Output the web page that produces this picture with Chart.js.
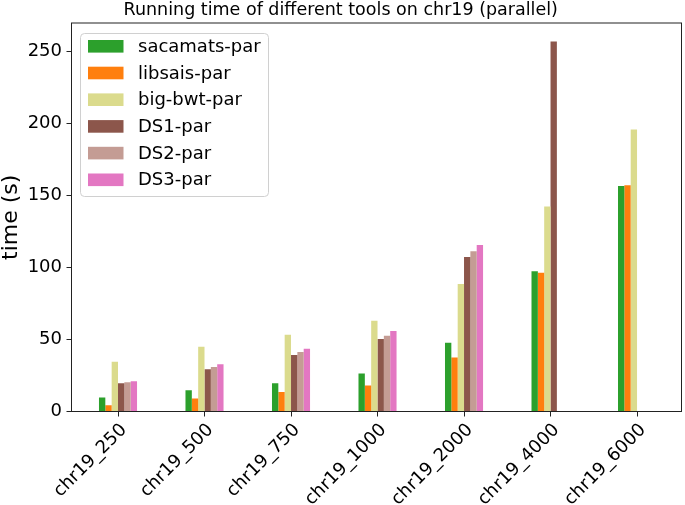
<!DOCTYPE html>
<html>
<head>
<meta charset="utf-8">
<script src="https://cdn.jsdelivr.net/npm/chart.js@4"></script>
<style>
  html, body { margin: 0; padding: 0; background: #fff; }
  canvas { display: block; }
</style>
</head>
<body>
<canvas id="myChart" width="685" height="505"></canvas>
<script>
// data
const categories = ['chr19_250', 'chr19_500', 'chr19_750', 'chr19_1000', 'chr19_2000', 'chr19_4000', 'chr19_6000'];
const sacamatsPar = [9.7, 14.8, 19.7, 26.4, 47.7, 97.4, 156.8];
const libsaisPar  = [4.4, 9.0, 13.6, 18.1, 37.6, 96.5, 157.3];
const bigBwtPar   = [34.5, 45.0, 53.3, 63.0, 88.6, 142.4, 196.0];
const ds1Par      = [19.7, 29.4, 39.2, 50.3, 107.4, 257.2, null];
const ds2Par      = [20.4, 31.0, 41.3, 52.6, 111.3, null, null];
const ds3Par      = [21.1, 32.9, 43.6, 55.9, 115.7, null, null];
const yTicks = [0, 50, 100, 150, 200, 250];

const FONT = 'DejaVu Sans';
const INK = '#000';

function pts(arr) {
  return arr.map((v, i) => ({ x: i, y: v }));
}

const series = [
  { label: 'sacamats-par', data: sacamatsPar, color: '#2ca02c' },
  { label: 'libsais-par',  data: libsaisPar,  color: '#ff7f0e' },
  { label: 'big-bwt-par',  data: bigBwtPar,   color: '#dbdb8d' },
  { label: 'DS1-par',      data: ds1Par,      color: '#8c564b' },
  { label: 'DS2-par',      data: ds2Par,      color: '#c49c94' },
  { label: 'DS3-par',      data: ds3Par,      color: '#e377c2' },
];

// box round the plot + legend in the upper left corner
const framePlugin = {
  id: 'frame',
  afterDraw(chart) {
    const { ctx, chartArea: a } = chart;
    ctx.save();
    ctx.strokeStyle = '#222';
    ctx.lineWidth = 1;
    ctx.strokeRect(a.left, a.top, a.right - a.left, a.bottom - a.top);

    // legend
    const bx = 80.5, by = 33.5, bw = 188, bh = 163, r = 4;
    ctx.beginPath();
    ctx.moveTo(bx + r, by);
    ctx.arcTo(bx + bw, by, bx + bw, by + bh, r);
    ctx.arcTo(bx + bw, by + bh, bx, by + bh, r);
    ctx.arcTo(bx, by + bh, bx, by, r);
    ctx.arcTo(bx, by, bx + bw, by, r);
    ctx.closePath();
    ctx.fillStyle = 'rgba(255,255,255,0.8)';
    ctx.fill();
    ctx.strokeStyle = '#d0d0d0';
    ctx.stroke();

    ctx.font = '18px "' + FONT + '"';
    ctx.textBaseline = 'middle';
    ctx.textAlign = 'left';
    chart.data.datasets.forEach((ds, i) => {
      const cy = 46.3 + i * 26.7;
      ctx.fillStyle = ds.backgroundColor;
      ctx.fillRect(88, cy - 6.3, 35.5, 12.6);
      ctx.fillStyle = INK;
      ctx.fillText(ds.label, 138, cy + 1);
    });
    ctx.restore();
  }
};

new Chart(document.getElementById('myChart'), {
  type: 'bar',
  data: {
    datasets: series.map(s => ({
      label: s.label,
      data: pts(s.data),
      backgroundColor: s.color,
      borderWidth: 0,
      categoryPercentage: 0.44,
      barPercentage: 1.0,
    })),
  },
  options: {
    responsive: false,
    animation: false,
    layout: { padding: { left: 0, right: 3.5, top: 0, bottom: 0 } },
    plugins: {
      legend: { display: false },
      tooltip: { enabled: false },
      title: {
        display: true,
        text: 'Running time of different tools on chr19 (parallel)',
        color: INK,
        font: { family: FONT, size: 17.5, weight: 'normal', lineHeight: 1.2 },
        padding: { top: 0, bottom: 2 },
      },
    },
    scales: {
      x: {
        type: 'linear',
        offset: false,
        min: -0.5376,
        max: 6.514,
        afterBuildTicks: s => { s.ticks = categories.map((c, i) => ({ value: i })); },
        afterFit: s => { s.height = 93.5; },
        grid: { display: true, offset: false, drawOnChartArea: false, drawTicks: true, tickLength: 5, color: '#222' },
        border: { display: false },
        ticks: {
          autoSkip: false,
          minRotation: 45,
          maxRotation: 45,
          padding: 3,
          labelOffset: 6,
          color: INK,
          font: { family: FONT, size: 18 },
          callback: v => categories[v],
        },
      },
      y: {
        min: 0,
        max: 270,
        afterBuildTicks: s => { s.ticks = yTicks.map(v => ({ value: v })); },
        afterFit: s => { s.width = 71.5; },
        grid: { display: true, drawOnChartArea: false, drawTicks: true, tickLength: 5, color: '#222' },
        border: { display: false },
        ticks: {
          padding: 4.5,
          color: INK,
          font: { family: FONT, size: 18 },
        },
        title: {
          display: true,
          text: 'time (s)',
          color: INK,
          font: { family: FONT, size: 22, lineHeight: 1.0 },
          padding: { top: 0, bottom: 0 },
        },
      },
    },
  },
  plugins: [framePlugin],
});
</script>
</body>
</html>
